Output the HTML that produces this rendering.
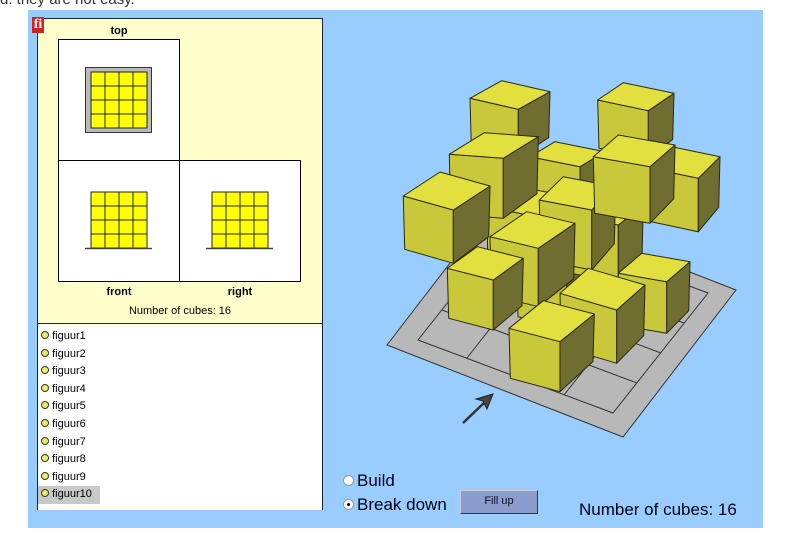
<!DOCTYPE html>
<html><head><meta charset="utf-8"><style>
body{margin:0;width:800px;height:544px;background:#fff;position:relative;overflow:hidden;font-family:"Liberation Sans",Arial,sans-serif}
.a{position:absolute}
</style></head><body>
<div class="a" style="left:0;top:-9px;font-size:15px;color:#333">d: they are not easy.</div>
<div class="a" style="left:28px;top:10px;width:735px;height:518px;background:#99ccff"></div>
<div class="a" style="left:37px;top:18px;width:284px;height:490px;border:1px solid #223;background:#ffffcc"></div>
<div class="a" style="left:38px;top:323px;width:284px;height:186px;background:#fff;border-top:1px solid #223"></div>
<div class="a" style="left:32px;top:17px;width:12px;height:16px;background:#c22;color:#fff;font-weight:bold;font-size:14px;line-height:16px;text-align:center;font-family:'Liberation Serif',serif">fi</div>
<div class="a" style="left:58px;top:39px;width:120px;height:120px;border:1px solid #000;background:#fff"></div>
<div class="a" style="left:58px;top:160px;width:120px;height:120px;border:1px solid #000;background:#fff"></div>
<div class="a" style="left:179px;top:160px;width:120px;height:120px;border:1px solid #000;background:#fff"></div>
<div class="a" style="left:58px;top:25px;width:122px;text-align:center;font-size:11px;font-weight:bold">top</div>
<div class="a" style="left:58px;top:286px;width:122px;text-align:center;font-size:11px;font-weight:bold">front</div>
<div class="a" style="left:179px;top:286px;width:122px;text-align:center;font-size:11px;font-weight:bold">right</div>
<div class="a" style="left:38px;top:305px;width:284px;text-align:center;font-size:11px">Number of cubes: 16</div>
<svg class="a" style="left:0;top:0" width="800" height="544">
<rect x="85.5" y="67.5" width="66" height="65" fill="#bbb" stroke="#333"/>
<g fill="#ff0" stroke="#222" stroke-width="1">
<g id="gr"><rect x="91" y="72" width="14" height="14"/><rect x="105" y="72" width="14" height="14"/><rect x="119" y="72" width="14" height="14"/><rect x="133" y="72" width="14" height="14"/>
<rect x="91" y="86" width="14" height="14"/><rect x="105" y="86" width="14" height="14"/><rect x="119" y="86" width="14" height="14"/><rect x="133" y="86" width="14" height="14"/>
<rect x="91" y="100" width="14" height="14"/><rect x="105" y="100" width="14" height="14"/><rect x="119" y="100" width="14" height="14"/><rect x="133" y="100" width="14" height="14"/>
<rect x="91" y="114" width="14" height="14"/><rect x="105" y="114" width="14" height="14"/><rect x="119" y="114" width="14" height="14"/><rect x="133" y="114" width="14" height="14"/></g>
<use href="#gr" x="0" y="120"/>
<use href="#gr" x="121" y="120"/>
</g>
<line x1="85" y1="248.5" x2="152" y2="248.5" stroke="#444" stroke-width="1.5"/>
<line x1="206" y1="248.5" x2="273" y2="248.5" stroke="#444" stroke-width="1.5"/>
<polygon points="387,345 500,198 736,290 623,437" fill="#b8b8b8" stroke="#333"/>
<g fill="none" stroke="#333">
<polygon points="418,340 513,220 708,293 613,413"/>
<line x1="467" y1="358" x2="561" y2="238"/><line x1="516" y1="376" x2="610" y2="256"/><line x1="564" y1="395" x2="659" y2="275"/>
<line x1="442" y1="310" x2="637" y2="383"/><line x1="466" y1="280" x2="661" y2="353"/><line x1="489" y1="250" x2="684" y2="323"/>
</g>
<g id="cubes" stroke="#2a2a10" stroke-width="1" stroke-linejoin="round"></g>
<line x1="463" y1="423" x2="486" y2="401" stroke="#333" stroke-width="2.5"/>
<polygon points="493,394 476,399 483,401 487,409" fill="#444" stroke="#222"/>
</svg>
<div class="a" style="left:38px;top:328px;font-size:11px;line-height:17.6px">
<div>&nbsp;<span style="display:inline-block;width:6px;height:6px;border:1px solid #333;border-radius:50%;background:#ee6"></span> figuur1</div>
<div>&nbsp;<span style="display:inline-block;width:6px;height:6px;border:1px solid #333;border-radius:50%;background:#ee6"></span> figuur2</div>
<div>&nbsp;<span style="display:inline-block;width:6px;height:6px;border:1px solid #333;border-radius:50%;background:#ee6"></span> figuur3</div>
<div>&nbsp;<span style="display:inline-block;width:6px;height:6px;border:1px solid #333;border-radius:50%;background:#ee6"></span> figuur4</div>
<div>&nbsp;<span style="display:inline-block;width:6px;height:6px;border:1px solid #333;border-radius:50%;background:#ee6"></span> figuur5</div>
<div>&nbsp;<span style="display:inline-block;width:6px;height:6px;border:1px solid #333;border-radius:50%;background:#ee6"></span> figuur6</div>
<div>&nbsp;<span style="display:inline-block;width:6px;height:6px;border:1px solid #333;border-radius:50%;background:#ee6"></span> figuur7</div>
<div>&nbsp;<span style="display:inline-block;width:6px;height:6px;border:1px solid #333;border-radius:50%;background:#ee6"></span> figuur8</div>
<div>&nbsp;<span style="display:inline-block;width:6px;height:6px;border:1px solid #333;border-radius:50%;background:#ee6"></span> figuur9</div>
<div style="background:#c8c8c8;width:62px">&nbsp;<span style="display:inline-block;width:6px;height:6px;border:1px solid #333;border-radius:50%;background:#ee6"></span> figuur10</div>
</div>
<div class="a" style="left:343px;top:475px;width:9px;height:9px;border-radius:50%;background:#fff;border:1px solid #999"></div>
<div class="a" style="left:343px;top:499px;width:9px;height:9px;border-radius:50%;background:#fff;border:1px solid #999"><div style="position:absolute;left:3px;top:3px;width:3px;height:3px;background:#000;border-radius:50%"></div></div>
<div class="a" style="left:357px;top:471px;font-size:17px;color:#001">Build</div>
<div class="a" style="left:357px;top:495px;font-size:17px;color:#001">Break down</div>
<div class="a" style="left:460px;top:490px;width:76px;height:22px;background:#8c9ccc;border:1px solid;border-color:#ccd #334 #334 #ccd;text-align:center;font-size:11px;line-height:20px;color:#112">Fill up</div>
<div class="a" style="left:579px;top:500px;font-size:17px;color:#001">Number of cubes: 16</div>
<script>
var C=[[420,115,145,33,95,-53,145],[803,120,152,32,77,-52,145],[600,290,150,30,75,-45,150],[960,325,145,30,65,-65,160],
[470,440,150,30,100,-60,180],[560,600,150,30,90,-70,170],
[715,470,150,25,75,-60,170],[628,420,157,30,72,-70,180],[790,290,170,30,75,-65,170],[358,283,162,12,105,-65,180],
[220,408,150,42,110,-72,160],[480,530,145,35,110,-75,175],[352,625,138,35,90,-65,150],[865,640,145,25,70,-60,155],
[690,700,170,50,85,-75,160],[537,805,153,40,103,-83,150]];
function p(x,y){return (x/3+330).toFixed(1)+","+(y/3+60).toFixed(1)}
var s="";
C.forEach(function(c){var ax=c[0],ay=c[1],fx=c[2],fy=c[3],dx=c[4],dy=c[5],h=c[6];
s+='<polygon fill="#c9c73a" points="'+p(ax,ay)+' '+p(ax+fx,ay+fy)+' '+p(ax+fx,ay+fy+h)+' '+p(ax+4,ay+h)+'"/>';
s+='<polygon fill="#6f6d30" points="'+p(ax+fx,ay+fy)+' '+p(ax+fx+dx,ay+fy+dy)+' '+p(ax+fx+dx-4,ay+fy+dy+h*0.95)+' '+p(ax+fx,ay+fy+h)+'"/>';
s+='<polygon fill="#e2e03f" points="'+p(ax,ay)+' '+p(ax+fx,ay+fy)+' '+p(ax+fx+dx,ay+fy+dy)+' '+p(ax+dx,ay+dy)+'"/>';});
document.getElementById("cubes").innerHTML=s;
</script>
</body></html>
